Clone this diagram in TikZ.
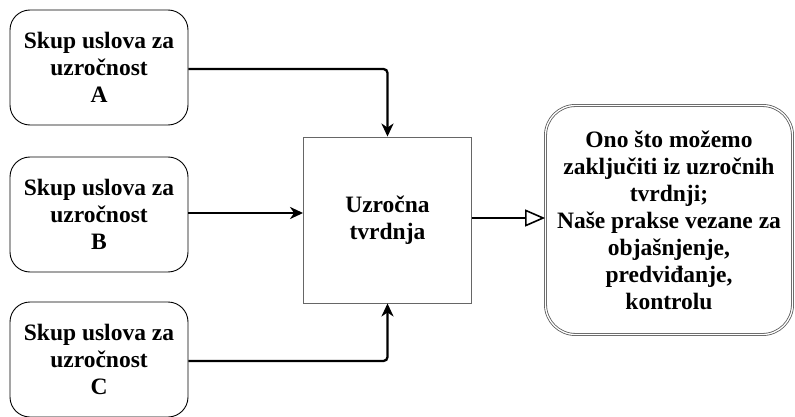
\documentclass[tikz,border=0pt]{standalone}
\usepackage{fontspec}
\setmainfont{Liberation Serif}
\usetikzlibrary{arrows.meta}
\begin{document}
\begin{tikzpicture}[x=1pt,y=-1pt,
  every node/.style={font=\fontsize{23.5}{27}\selectfont\bfseries, align=center, inner sep=0pt},
  condbox/.style={draw=black, line width=0.9pt, rounded corners=20pt, minimum width=178pt, minimum height=115pt},
  claimbox/.style={draw=black!60, line width=0.9pt, minimum width=168pt, minimum height=166pt},
  resbox/.style={draw=black!65, double=white, double distance=1.3pt, line width=0.8pt, rounded corners=30pt, minimum width=247pt, minimum height=229pt},
  link/.style={line width=2.3pt, rounded corners=4pt, -{Stealth[length=13pt,width=12pt,inset=4pt]}},
  openlink/.style={line width=2.3pt, -{Triangle[open, length=20pt, width=17pt, line width=1.6pt]}}
]
\useasboundingbox (0,0) rectangle (795,417);
\node[condbox] (a) at (99,67.5) {Skup uslova za\\uzročnost\\A};
\node[condbox] (b) at (99,214.5) {Skup uslova za\\uzročnost\\B};
\node[condbox] (c) at (99,359.5) {Skup uslova za\\uzročnost\\C};
\node[claimbox] (u) at (387.5,220) {Uzročna\\tvrdnja};
\node[resbox] (r) at (669,220) {Ono što možemo\\zaključiti iz uzročnih\\tvrdnji;\\Naše prakse vezane za\\objašnjenje,\\predviđanje,\\kontrolu};
\draw[link] (a.east |- 0,69) -| (u.north);
\draw[link] (b.east |- 0,213) -- (u.west |- 0,213);
\draw[link] (c.east |- 0,361) -| (u.south);
\draw[openlink] (u.east |- 0,218) -- (r.west |- 0,218);
\end{tikzpicture}
\end{document}
